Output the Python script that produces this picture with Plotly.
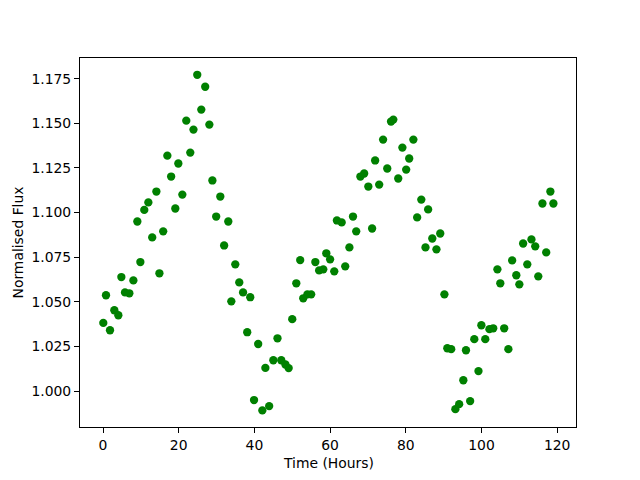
import plotly.graph_objects as go

time_hours = [0.08, 0.79, 1.85, 2.99, 4.05, 4.85, 5.81, 6.96, 8.02, 9.07,
              9.87, 10.9, 11.98, 13.0, 14.1, 14.9, 15.9, 17.0, 18.0, 19.1,
              19.9, 20.96, 22.0, 23.06, 23.9, 24.9, 25.97, 27.0, 28.1, 28.9,
              29.9, 30.99, 32.0, 33.1, 33.9, 34.95, 36.0, 37.0, 38.1, 38.9,
              39.9, 41.0, 42.1, 42.9, 43.9, 45.0, 46.1, 47.1, 48.2, 49.05,
              50.0, 51.07, 52.1, 52.9, 54.0, 55.0, 56.1, 57.1, 58.2, 59.0,
              60.0, 61.1, 61.8, 63.06, 64.0, 65.1, 66.05, 66.9, 68.0, 69.0,
              70.1, 71.1, 71.9, 72.97, 74.0, 75.1, 76.1, 76.7, 78.0, 79.1,
              80.1, 80.9, 82.0, 83.0, 84.1, 85.2, 85.9, 87.0, 88.1, 89.1,
              90.2, 90.97, 92.0, 93.1, 94.1, 95.2, 95.9, 97.0, 98.1, 99.2,
              99.97, 101.0, 102.1, 103.1, 104.2, 104.97, 106.0, 107.1, 108.1, 109.2,
              110.0, 111.0, 112.1, 113.2, 114.2, 115.0, 116.1, 117.1, 118.2, 119.0]

flux = [1.0382, 1.0537, 1.0341, 1.0453, 1.0425, 1.0639, 1.0553, 1.0548, 1.0620, 1.0950,
        1.0723, 1.1015, 1.1057, 1.0861, 1.1118, 1.0660, 1.0895, 1.1319, 1.1202, 1.1023,
        1.1275, 1.1101, 1.1515, 1.1336, 1.1465, 1.1772, 1.1577, 1.1705, 1.1493, 1.1180,
        1.0978, 1.1090, 1.0816, 1.0950, 1.0503, 1.0710, 1.0609, 1.0553, 1.0330, 1.0526,
        0.9950, 1.0264, 0.9892, 1.0130, 0.9916, 1.0173, 1.0296, 1.0173, 1.0149, 1.0129,
        1.0403, 1.0604, 1.0734, 1.0520, 1.0542, 1.0542, 1.0723, 1.0676, 1.0682, 1.0772,
        1.0738, 1.0671, 1.0956, 1.0945, 1.0699, 1.0805, 1.0978, 1.0895, 1.1202, 1.1219,
        1.1146, 1.0911, 1.1292, 1.1157, 1.1409, 1.1247, 1.1510, 1.1521, 1.1191, 1.1364,
        1.1241, 1.1303, 1.1409, 1.0973, 1.1073, 1.0805, 1.1018, 1.0855, 1.0794, 1.0883,
        1.0542, 1.0240, 1.0235, 0.9899, 0.9927, 1.0061, 1.0229, 0.9944, 1.0291, 1.0112,
        1.0369, 1.0291, 1.0347, 1.0352, 1.0682, 1.0604, 1.0352, 1.0235, 1.0732, 1.0649,
        1.0598, 1.0827, 1.0710, 1.0850, 1.0811, 1.0643, 1.1051, 1.0777, 1.1118, 1.1051]

x_ticks = [0, 20, 40, 60, 80, 100, 120]
y_ticks = [1.000, 1.025, 1.050, 1.075, 1.100, 1.125, 1.150, 1.175]

fig = go.Figure(go.Scatter(
    x=time_hours, y=flux, mode="markers",
    marker=dict(color="#008000", size=8.3, line=dict(width=0)),
))

font = dict(family="DejaVu Sans", size=13.9, color="black")
axis_common = dict(showgrid=False, zeroline=False, showline=True, linecolor="black",
                   linewidth=1, mirror=True, ticks="outside", ticklen=5,
                   tickcolor="black", tickwidth=1, tickfont=font, automargin=False)

fig.update_layout(
    width=640, height=480,
    margin=dict(l=80, r=64, t=58, b=53),
    paper_bgcolor="white", plot_bgcolor="white",
    showlegend=False,
    font=font,
    xaxis=dict(range=[-6.08, 124.97], tickvals=x_ticks, title=None, **axis_common),
    yaxis=dict(range=[0.9799, 1.1866], tickvals=y_ticks, tickformat=".3f",
               title=None, **axis_common),
    annotations=[
        dict(text="Time (Hours)", xref="paper", yref="paper", x=0.5, y=0,
             yshift=-36, xanchor="center", yanchor="middle", showarrow=False, font=font),
        dict(text="Normalised Flux", xref="paper", yref="paper", x=0, y=0.5,
             xshift=-63, textangle=-90, xanchor="center", yanchor="middle",
             showarrow=False, font=font),
    ],
)

fig.write_html("out.html", config={"displayModeBar": False},
               post_script="document.body.style.margin='0';")
